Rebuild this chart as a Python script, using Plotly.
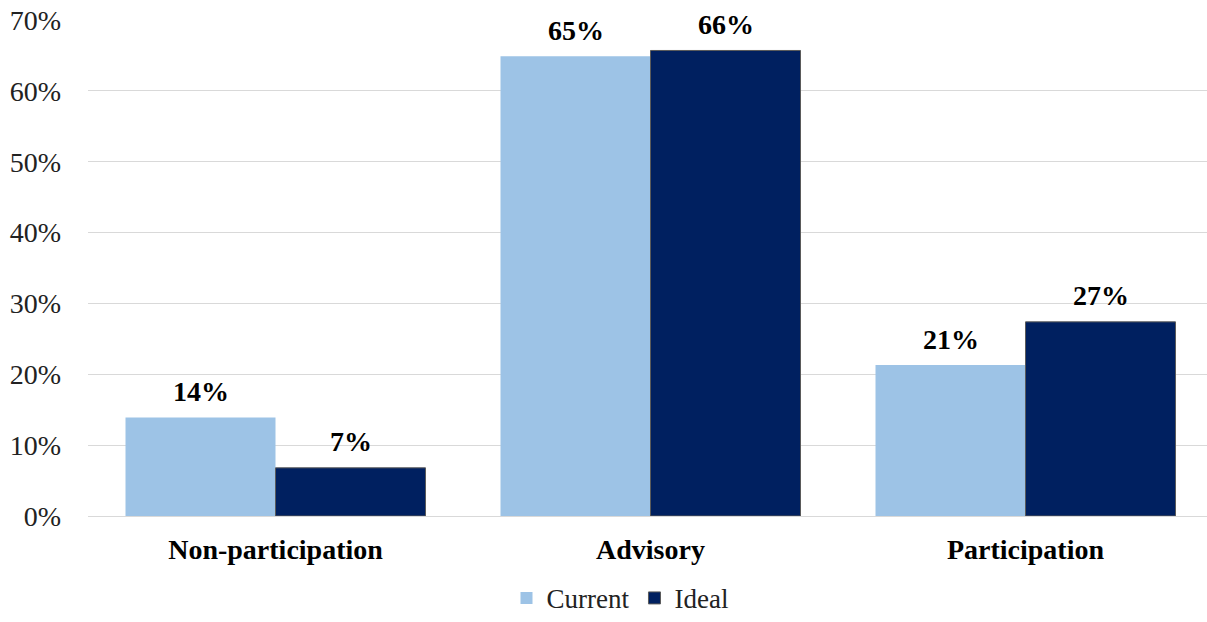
import plotly.graph_objects as go

categories = ["Non-participation", "Advisory", "Participation"]
current = [13.9, 64.9, 21.3]
ideal = [6.8, 65.7, 27.4]
current_labels = ["14%", "65%", "21%"]
ideal_labels = ["7%", "66%", "27%"]
y_ticks = [0, 10, 20, 30, 40, 50, 60, 70]
y_tick_text = ["0%", "10%", "20%", "30%", "40%", "50%", "60%", "70%"]

FONT = "Liberation Serif"

fig = go.Figure()
fig.add_trace(go.Bar(name="Current", x=categories, y=current,
                     marker=dict(color="#9DC3E6", line=dict(color="#9DC3E6", width=0))))
fig.add_trace(go.Bar(name="Ideal", x=categories, y=ideal,
                     marker=dict(color="#002060", line=dict(color="#5a5a5a", width=1))))

# data labels via annotations positioned in data coordinates
for i, c in enumerate(categories):
    fig.add_annotation(x=i - 0.2, y=current[i], xref="x", yref="y", text="<b>%s</b>" % current_labels[i],
                       showarrow=False, yanchor="middle", yshift=26,
                       font=dict(family=FONT, size=28, color="#000000"))
    fig.add_annotation(x=i + 0.2, y=ideal[i], xref="x", yref="y", text="<b>%s</b>" % ideal_labels[i],
                       showarrow=False, yanchor="middle", yshift=26,
                       font=dict(family=FONT, size=28, color="#000000"))

fig.update_layout(
    width=1207, height=622,
    margin=dict(l=88, r=0, t=20, b=106),
    barmode="group", bargap=0.2, bargroupgap=0,
    plot_bgcolor="white", paper_bgcolor="white",
    font=dict(family=FONT, size=28, color="#000000"),
    showlegend=True,
    legend=dict(orientation="h", xref="container", yref="container",
                x=620 / 1207, xanchor="center", y=0.038, yanchor="middle",
                font=dict(family=FONT, size=27, color="#222222"), itemwidth=30, tracegroupgap=0),
)
fig.update_xaxes(range=[-0.5, 2.484], tickmode="array", tickvals=[0, 1, 2],
                 ticktext=["<b>%s</b>" % c for c in categories],
                 showline=False, showgrid=False, ticks="", ticklabelstandoff=14,
                 tickfont=dict(family=FONT, size=28, color="#000000"))
fig.update_yaxes(range=[0, 70], tickvals=y_ticks, ticktext=y_tick_text,
                 showgrid=True, gridcolor="#d9d9d9", gridwidth=1, zeroline=True,
                 zerolinecolor="#d9d9d9", zerolinewidth=1, showline=False, ticks="",
                 ticklabelstandoff=26,
                 tickfont=dict(family=FONT, size=28, color="#222222"))

fig.write_html("out.html")
